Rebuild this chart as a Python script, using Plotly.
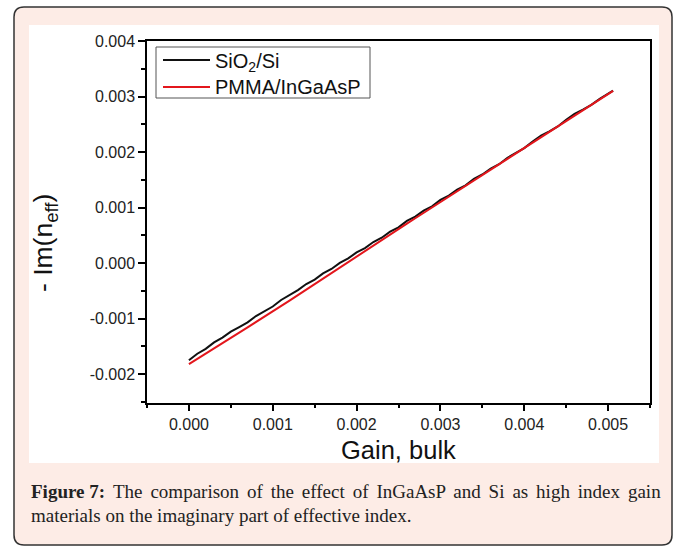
import plotly.graph_objects as go

# Bulk gain values (x) shared by both curves
gain_bulk = [
    0.0000, 0.0001, 0.0002, 0.0003, 0.0004, 0.0005, 0.0006, 0.0007, 0.0008, 0.0009,
    0.0010, 0.0011, 0.0012, 0.0013, 0.0014, 0.0015, 0.0016, 0.0017, 0.0018, 0.0019,
    0.0020, 0.0021, 0.0022, 0.0023, 0.0024, 0.0025, 0.0026, 0.0027, 0.0028, 0.0029,
    0.0030, 0.0031, 0.0032, 0.0033, 0.0034, 0.0035, 0.0036, 0.0037, 0.0038, 0.0039,
    0.0040, 0.0041, 0.0042, 0.0043, 0.0044, 0.0045, 0.0046, 0.0047, 0.0048, 0.0049,
    0.0050, 0.00506,
]

# -Im(n_eff) for the SiO2/Si structure
im_sio2_si = [
    -1.750e-3, -1.633e-3, -1.545e-3, -1.428e-3, -1.341e-3, -1.234e-3, -1.152e-3, -1.068e-3, -0.954e-3, -0.868e-3,
    -0.782e-3, -0.665e-3, -0.576e-3, -0.487e-3, -0.377e-3, -0.297e-3, -0.186e-3, -0.106e-3, 0.004e-3, 0.084e-3,
    0.192e-3, 0.271e-3, 0.379e-3, 0.457e-3, 0.565e-3, 0.643e-3, 0.760e-3, 0.837e-3, 0.944e-3, 1.022e-3,
    1.139e-3, 1.216e-3, 1.324e-3, 1.401e-3, 1.518e-3, 1.596e-3, 1.703e-3, 1.780e-3, 1.897e-3, 1.985e-3,
    2.072e-3, 2.189e-3, 2.297e-3, 2.374e-3, 2.461e-3, 2.579e-3, 2.686e-3, 2.763e-3, 2.850e-3, 2.958e-3,
    3.055e-3, 3.108e-3,
]

# -Im(n_eff) for the PMMA/InGaAsP structure
im_pmma_ingaasp = [
    -1.820e-3, -1.723e-3, -1.625e-3, -1.528e-3, -1.431e-3, -1.344e-3, -1.252e-3, -1.158e-3, -1.064e-3, -0.968e-3,
    -0.872e-3, -0.775e-3, -0.676e-3, -0.577e-3, -0.477e-3, -0.377e-3, -0.276e-3, -0.176e-3, -0.076e-3, 0.024e-3,
    0.122e-3, 0.221e-3, 0.319e-3, 0.417e-3, 0.515e-3, 0.613e-3, 0.710e-3, 0.807e-3, 0.904e-3, 1.002e-3,
    1.099e-3, 1.196e-3, 1.294e-3, 1.391e-3, 1.488e-3, 1.586e-3, 1.683e-3, 1.780e-3, 1.877e-3, 1.975e-3,
    2.072e-3, 2.169e-3, 2.267e-3, 2.364e-3, 2.461e-3, 2.559e-3, 2.656e-3, 2.753e-3, 2.850e-3, 2.948e-3,
    3.045e-3, 3.103e-3,
]

x_tick_vals = [0.000, 0.001, 0.002, 0.003, 0.004, 0.005]
x_tick_text = ["0.000", "0.001", "0.002", "0.003", "0.004", "0.005"]
x_minor_vals = [-0.0005, 0.0005, 0.0015, 0.0025, 0.0035, 0.0045, 0.0055]
y_tick_vals = [-0.002, -0.001, 0.000, 0.001, 0.002, 0.003, 0.004]
y_tick_text = ["-0.002", "-0.001", "0.000", "0.001", "0.002", "0.003", "0.004"]
y_minor_vals = [-0.0025, -0.0015, -0.0005, 0.0005, 0.0015, 0.0025, 0.0035]

series_names = ["SiO<sub>2</sub>/Si", "PMMA/InGaAsP"]
series_colors = ["#111111", "#e3161c"]
caption_words1 = ["<b>Figure 7:</b>", "The", "comparison", "of", "the", "effect", "of",
                  "InGaAsP", "and", "Si", "as", "high", "index", "gain"]
caption_line2 = "materials on the imaginary part of effective index."

# Canvas geometry (pixels)
W, H = 677, 547
PL, PR, PT, PB = 147, 650, 41, 403


def fx(px):
    return (px - PL) / (PR - PL)


def fy(py):
    return (PB - py) / (PB - PT)


def rounded_rect(x0, y0, x1, y1, r):
    rx = r / (PR - PL)
    ry = r / (PB - PT)
    a0, a1 = fx(x0), fx(x1)
    b0, b1 = fy(y1), fy(y0)  # bottom, top in paper units
    return (
        f"M {a0 + rx},{b0} L {a1 - rx},{b0} Q {a1},{b0} {a1},{b0 + ry} "
        f"L {a1},{b1 - ry} Q {a1},{b1} {a1 - rx},{b1} "
        f"L {a0 + rx},{b1} Q {a0},{b1} {a0},{b1 - ry} "
        f"L {a0},{b0 + ry} Q {a0},{b0} {a0 + rx},{b0} Z"
    )


fig = go.Figure()
fig.add_trace(go.Scatter(
    x=gain_bulk, y=im_sio2_si, mode="lines", name=series_names[0],
    line=dict(color=series_colors[0], width=2),
))
fig.add_trace(go.Scatter(
    x=gain_bulk, y=im_pmma_ingaasp, mode="lines", name=series_names[1],
    line=dict(color=series_colors[1], width=2),
))

sans = "Liberation Sans, Arial, sans-serif"
serif = "Liberation Serif, Times New Roman, serif"

# first caption line is justified: widen each word gap slightly
caption_line1 = (" \u2006").join(caption_words1)

# legend box drawn in the upper-left corner of the plot
legend_box = (156, 47, 370, 98)
legend_rows = [60, 87]
shapes = [
    dict(type="path", xref="paper", yref="paper", layer="below",
         path=rounded_rect(14, 7, 672, 545, 10),
         fillcolor="#fdece6", line=dict(color="#333333", width=1.5)),
    dict(type="rect", xref="paper", yref="paper", layer="below",
         x0=fx(29), x1=fx(659), y0=fy(463), y1=fy(25),
         fillcolor="white", line=dict(width=0)),
    dict(type="rect", xref="paper", yref="paper", layer="above",
         x0=fx(legend_box[0]), x1=fx(legend_box[2]),
         y0=fy(legend_box[3]), y1=fy(legend_box[1]),
         fillcolor="white", line=dict(color="#555555", width=1)),
]
annotations = []
for name, color, row in zip(series_names, series_colors, legend_rows):
    shapes.append(dict(type="line", xref="paper", yref="paper", layer="above",
                       x0=fx(163), x1=fx(210), y0=fy(row), y1=fy(row),
                       line=dict(color=color, width=2)))
    annotations.append(dict(text=name, xref="paper", yref="paper",
                            x=fx(213), y=fy(row + (2 if "sub" in name else 0)),
                            xanchor="left", yanchor="middle", showarrow=False,
                            font=dict(family=sans, size=20, color="#111111")))

annotations += [
    dict(text="Gain, bulk", xref="paper", yref="paper",
         x=fx(398), y=fy(450), xanchor="center", yanchor="middle",
         showarrow=False, font=dict(family=sans, size=25.5, color="#111111")),
    dict(text="- Im(n<sub>eff</sub>)", xref="paper", yref="paper",
         x=fx(45), y=fy(243), xanchor="center", yanchor="middle",
         textangle=-90, showarrow=False,
         font=dict(family=sans, size=26.5, color="#111111")),
    dict(text=caption_line1, xref="paper", yref="paper",
         x=fx(29), y=fy(491), xanchor="left", yanchor="middle",
         showarrow=False, align="left",
         font=dict(family=serif, size=19, color="#222222")),
    dict(text=caption_line2, xref="paper", yref="paper",
         x=fx(29), y=fy(515), xanchor="left", yanchor="middle",
         showarrow=False, align="left",
         font=dict(family=serif, size=19, color="#222222")),
]

fig.update_layout(
    width=W, height=H,
    margin=dict(l=PL, r=W - PR, t=PT, b=H - PB),
    paper_bgcolor="white",
    plot_bgcolor="rgba(0,0,0,0)",
    font=dict(family=sans, color="#1a1a1a"),
    showlegend=False,
    shapes=shapes,
    annotations=annotations,
)

fig.update_xaxes(
    range=[-0.0005, 0.0055], tickvals=x_tick_vals, ticktext=x_tick_text,
    ticks="outside", ticklen=6, tickwidth=1.5, tickcolor="black",
    showline=True, linecolor="black", linewidth=1.5, mirror=True,
    showgrid=False, zeroline=False,
    tickfont=dict(family=sans, size=16, color="#222222"),
    minor=dict(tickvals=x_minor_vals, ticks="outside", ticklen=3,
               tickwidth=1.5, tickcolor="black", showgrid=False),
)
fig.update_yaxes(
    range=[-0.00252, 0.004], tickvals=y_tick_vals, ticktext=y_tick_text,
    ticks="outside", ticklen=7, tickwidth=1.5, tickcolor="black",
    showline=True, linecolor="black", linewidth=1.5, mirror=True,
    showgrid=False, zeroline=False,
    tickfont=dict(family=sans, size=16, color="#222222"),
    minor=dict(tickvals=y_minor_vals, ticks="outside", ticklen=4,
               tickwidth=1.5, tickcolor="black", showgrid=False),
)

fig.write_html("out.html")
